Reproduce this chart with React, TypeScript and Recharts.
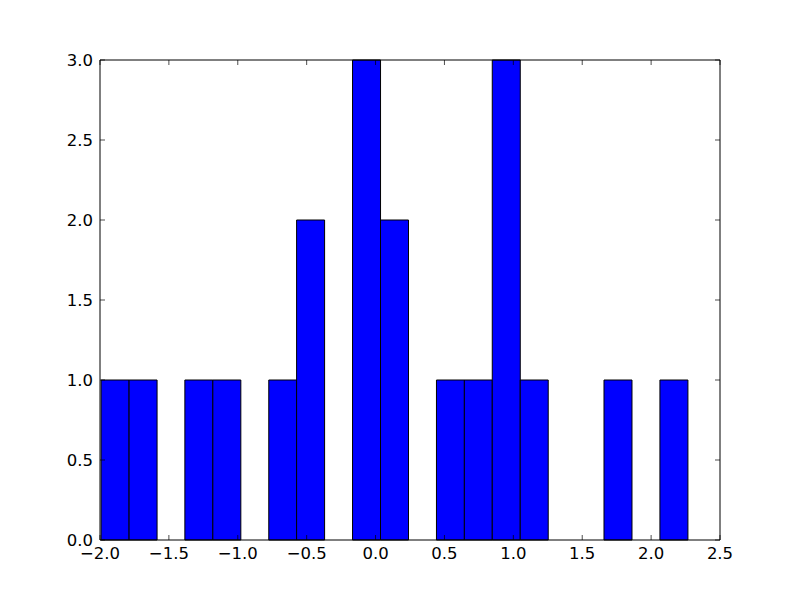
import React from "react";
import { BarChart, Bar, XAxis, YAxis } from "recharts";

const binCenters = [
  -1.891, -1.688, -1.486, -1.283, -1.08, -0.877, -0.674, -0.472, -0.269, -0.066,
  0.137, 0.34, 0.543, 0.745, 0.948, 1.151, 1.354, 1.557, 1.759, 1.962, 2.165,
];
const counts = [1, 1, 0, 1, 1, 0, 1, 2, 0, 3, 2, 0, 1, 1, 3, 1, 0, 0, 1, 0, 1];
const xTicks = [-2.0, -1.5, -1.0, -0.5, 0.0, 0.5, 1.0, 1.5, 2.0, 2.5];
const yTicks = [0.0, 0.5, 1.0, 1.5, 2.0, 2.5, 3.0];

const data = binCenters.map((c, i) => ({ x: c, count: counts[i] }));

const fmt = (v: number) => {
  const s = Number(v).toFixed(1);
  return s.startsWith("-") ? "\u2212" + s.slice(1) : s;
};

const FONT = "DejaVu Sans";
const FS = 16.5;
const TL = 5;
const tickStroke = "#000";

const BottomTick = (props: any) => {
  const { x, y, payload } = props;
  return (
    <g>
      <line x1={x} y1={y} x2={x} y2={y - TL} stroke={tickStroke} strokeWidth={0.7} />
      <text x={x} y={y + 19} textAnchor="middle" fontFamily={FONT} fontSize={FS} fill="#000">
        {fmt(payload.value)}
      </text>
    </g>
  );
};

const TopTick = (props: any) => {
  const { x, y } = props;
  return <line x1={x} y1={y} x2={x} y2={y + TL} stroke={tickStroke} strokeWidth={0.7} />;
};

const LeftTick = (props: any) => {
  const { x, y, payload } = props;
  return (
    <g>
      <line x1={x} y1={y} x2={x + TL} y2={y} stroke={tickStroke} strokeWidth={0.7} />
      <text x={x - 7} y={y + 6} textAnchor="end" fontFamily={FONT} fontSize={FS} fill="#000">
        {fmt(payload.value)}
      </text>
    </g>
  );
};

const RightTick = (props: any) => {
  const { x, y } = props;
  return <line x1={x} y1={y} x2={x - TL} y2={y} stroke={tickStroke} strokeWidth={0.7} />;
};

const axisLine = { stroke: "#000", strokeWidth: 1 };

export default function App() {
  return (
    <div style={{ position: "absolute", left: 0, top: 0, width: 800, height: 600, background: "#fff" }}>
      <BarChart
        width={800}
        height={600}
        data={data}
        margin={{ top: 59, right: 79, bottom: 0, left: 0 }}
        barCategoryGap={0}
        barGap={0}
      >
        <XAxis
          xAxisId="b"
          dataKey="x"
          type="number"
          domain={[-2, 2.5]}
          ticks={xTicks}
          interval={0}
          allowDataOverflow
          height={60}
          tick={<BottomTick />}
          tickSize={0}
          tickMargin={0}
          tickLine={false}
          axisLine={axisLine}
        />
        <XAxis
          xAxisId="t"
          dataKey="x"
          orientation="top"
          type="number"
          domain={[-2, 2.5]}
          ticks={xTicks}
          interval={0}
          allowDataOverflow
          height={1}
          tick={<TopTick />}
          tickSize={0}
          tickMargin={0}
          tickLine={false}
          axisLine={axisLine}
        />
        <YAxis
          yAxisId="l"
          type="number"
          domain={[0, 3]}
          ticks={yTicks}
          interval={0}
          width={100}
          tick={<LeftTick />}
          tickSize={0}
          tickMargin={0}
          tickLine={false}
          axisLine={axisLine}
        />
        <YAxis
          yAxisId="r"
          orientation="right"
          type="number"
          domain={[0, 3]}
          ticks={yTicks}
          interval={0}
          width={1}
          tick={<RightTick />}
          tickSize={0}
          tickMargin={0}
          tickLine={false}
          axisLine={axisLine}
        />
        <Bar
          xAxisId="b"
          yAxisId="l"
          dataKey="count"
          fill="#0000ff"
          stroke="#000"
          strokeWidth={1}
          isAnimationActive={false}
        />
        <Bar
          xAxisId="t"
          yAxisId="r"
          dataKey="count"
          fill="none"
          stroke="none"
          isAnimationActive={false}
        />
      </BarChart>
    </div>
  );
}
